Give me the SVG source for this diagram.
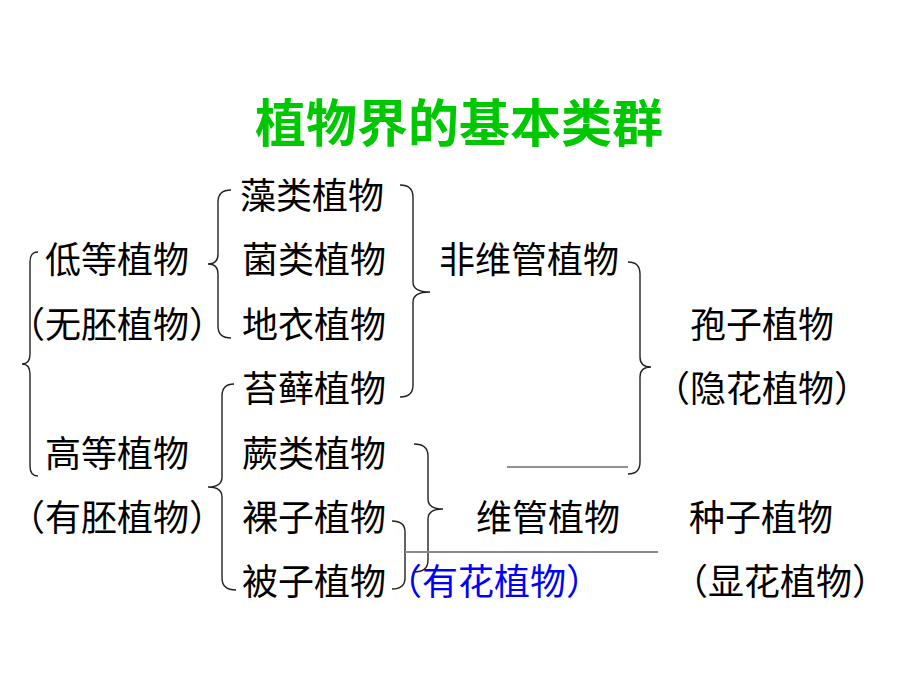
<svg xmlns="http://www.w3.org/2000/svg" width="920" height="690" viewBox="0 0 920 690">
<style>
  text { font-family: "Noto Sans CJK SC", "Noto Sans CJK TC", sans-serif; font-size: 36px; fill: #000; }
  .title { font-size: 51px; font-weight: 700; fill: #00c800; }
  .blue { fill: #0000ff; }
  .brace { fill: none; stroke: #222; stroke-width: 1.4; }
  .rule { fill: none; stroke: #222; stroke-width: 1.2; }
  .grey { fill: none; stroke: #8a8a8a; stroke-width: 2; }
</style>
<rect width="920" height="690" fill="#fff"/>
<g id="title"><text class="title" x="459" y="142" text-anchor="middle">植物界的基本类群</text></g>

<g id="n-didi"><text x="45" y="273">低等植物</text></g>
<g id="n-wupei"><text x="9" y="338">（无胚植物）</text></g>
<g id="n-gaodeng"><text x="45" y="467">高等植物</text></g>
<g id="n-youpei"><text x="9" y="531">（有胚植物）</text></g>

<g id="n-zaolei"><text x="240" y="209">藻类植物</text></g>
<g id="n-junlei"><text x="242" y="273">菌类植物</text></g>
<g id="n-diyi"><text x="242" y="338">地衣植物</text></g>
<g id="n-taixian"><text x="242" y="402">苔藓植物</text></g>
<g id="n-jue"><text x="242" y="467">蕨类植物</text></g>
<g id="n-luozi"><text x="242" y="531">裸子植物</text></g>
<g id="n-beizi"><text x="242" y="595">被子植物</text></g>

<g id="n-feiweiguan"><text x="439" y="273">非维管植物</text></g>
<g id="n-weiguan"><text x="476" y="531">维管植物</text></g>
<g id="n-youhua"><text class="blue" x="386" y="595">（有花植物）</text></g>

<g id="n-baozi"><text x="690" y="338">孢子植物</text></g>
<g id="n-yinhua"><text x="654" y="402">（隐花植物）</text></g>
<g id="n-zhongzi"><text x="689" y="531">种子植物</text></g>
<g id="n-xianhua"><text x="672" y="595">（显花植物）</text></g>

<g id="connectors">
  <!-- big left brace: 低等 / 高等 -->
  <path class="brace" d="M38 252 Q30 252 30 262 L30 354 Q30 364 22 364 Q30 364 30 374 L30 466 Q30 476 38 476"/>
  <!-- left brace: 藻/菌/地 -->
  <path class="brace" d="M231 190 Q218 190 218 202 L218 254 Q218 264 208 264 Q218 264 218 274 L218 326 Q218 338 231 338"/>
  <!-- left brace: 苔藓..被子 -->
  <path class="brace" d="M234 384 Q222 384 222 396 L222 477 Q222 487 208 487 Q222 487 222 497 L222 578 Q222 590 236 590"/>
  <!-- right brace: 藻..苔藓 -> 非维管植物 -->
  <path class="brace" d="M400 185 Q413 185 413 197 L413 282 Q413 292 430 292 Q413 292 413 302 L413 385 Q413 397 400 397"/>
  <!-- right brace: 蕨..被子 -> 维管植物 -->
  <path class="brace" d="M414 444 Q428 444 428 456 L428 499 Q428 509 443 509 Q428 509 428 519 L428 560 Q428 572 414 572"/>
  <!-- small right brace: 裸子/被子 -> 种子植物 -->
  <path class="brace" d="M392 521 Q405 521 405 532 L405 578 Q405 589 392 589"/>
  <line class="grey" x1="405" y1="552" x2="658" y2="552"/>
  <!-- right brace: 非维管 + line -> 孢子植物 -->
  <path class="brace" d="M628 262 Q640 262 640 274 L640 357 Q640 367 651 367 Q640 367 640 377 L640 462 Q640 474 628 474"/>
  <line class="rule" x1="507" y1="467" x2="628" y2="467"/>
</g>
</svg>
